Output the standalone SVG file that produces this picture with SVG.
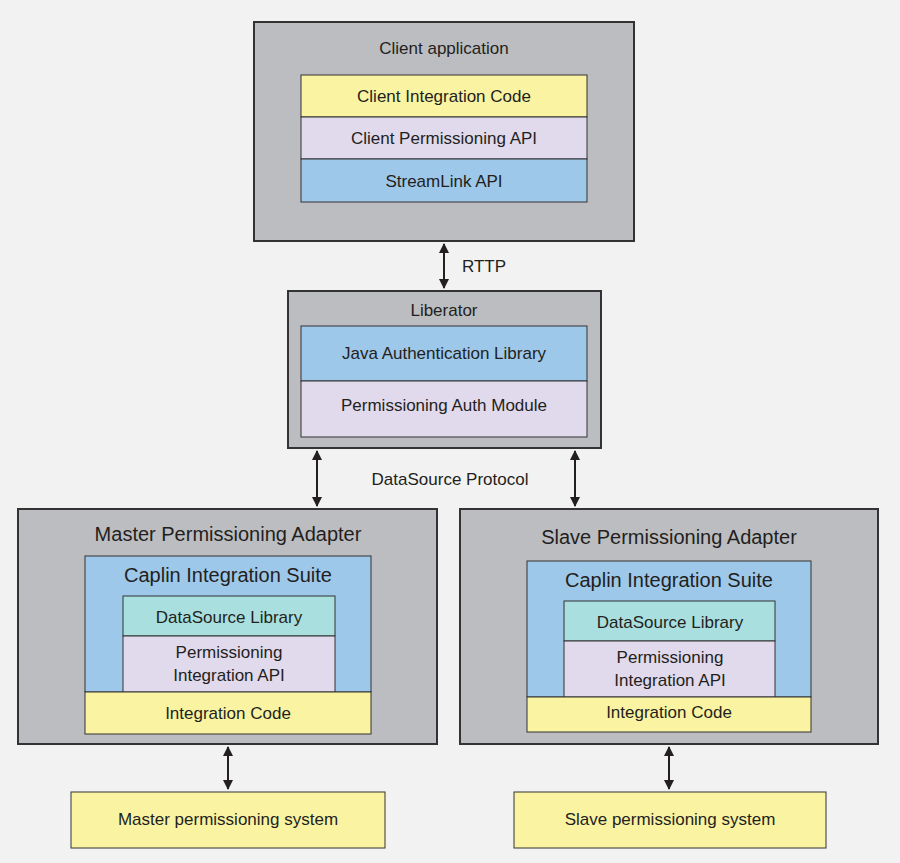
<svg xmlns="http://www.w3.org/2000/svg" width="900" height="863" viewBox="0 0 900 863">
<style>
text{font-family:"Liberation Sans",Arial,sans-serif;fill:#231f20;text-anchor:middle}
.g{fill:#bcbdc0;stroke:#333;stroke-width:2}
.y{fill:#faf4a2;stroke:#333;stroke-width:1}
.l{fill:#e1d9ec;stroke:#333;stroke-width:1}
.b{fill:#9dc8ea;stroke:#333;stroke-width:1}
.c{fill:#a9dfdf;stroke:#333;stroke-width:1}
.t{font-size:17px}
.h{font-size:20px}
.a{stroke:#231f20;stroke-width:2;fill:none;marker-start:url(#m);marker-end:url(#m)}
</style>
<defs><marker id="m" viewBox="0 0 10 10" refX="9" refY="5" markerWidth="5" markerHeight="5" orient="auto-start-reverse"><path d="M0,0L10,5L0,10z" fill="#231f20"/></marker></defs>
<rect width="900" height="863" fill="#f2f2f2"/>
<g id="client"><rect class="g" x="254" y="22" width="380" height="219"/><text class="t" x="444" y="54">Client application</text>
<rect class="y" x="301" y="75" width="286" height="42"/><text class="t" x="444" y="102">Client Integration Code</text>
<rect class="l" x="301" y="117" width="286" height="42"/><text class="t" x="444" y="144">Client Permissioning API</text>
<rect class="b" x="301" y="159" width="286" height="43"/><text class="t" x="444" y="187">StreamLink API</text></g>
<g id="liberator"><rect class="g" x="288" y="291" width="313" height="157"/><text class="t" x="444" y="316">Liberator</text>
<rect class="b" x="301" y="326" width="286" height="55"/><text class="t" x="444" y="359">Java Authentication Library</text>
<rect class="l" x="301" y="381" width="286" height="56"/><text class="t" x="444" y="411">Permissioning Auth Module</text></g>
<g id="master"><rect class="g" x="18" y="509" width="419" height="235"/><text class="h" x="228" y="541">Master Permissioning Adapter</text>
<rect class="b" x="85" y="556" width="286" height="136"/><text class="h" x="228" y="582">Caplin Integration Suite</text>
<rect class="c" x="123" y="596" width="212" height="40"/><text class="t" x="229" y="623">DataSource Library</text>
<rect class="l" x="123" y="636" width="212" height="56"/><text class="t" x="229" y="658">Permissioning</text><text class="t" x="229" y="681">Integration API</text>
<rect class="y" x="85" y="692" width="286" height="42"/><text class="t" x="228" y="719">Integration Code</text></g>
<g id="slave"><rect class="g" x="460" y="509" width="418" height="235"/><text class="h" x="669" y="544">Slave Permissioning Adapter</text>
<rect class="b" x="527" y="561" width="284" height="136"/><text class="h" x="669" y="587">Caplin Integration Suite</text>
<rect class="c" x="564" y="601" width="211" height="40"/><text class="t" x="670" y="628">DataSource Library</text>
<rect class="l" x="564" y="641" width="211" height="56"/><text class="t" x="670" y="663">Permissioning</text><text class="t" x="670" y="686">Integration API</text>
<rect class="y" x="527" y="697" width="284" height="35"/><text class="t" x="669" y="718">Integration Code</text></g>
<g id="mps"><rect class="y" x="71" y="792" width="314" height="56"/><text class="t" x="228" y="825">Master permissioning system</text></g>
<g id="sps"><rect class="y" x="514" y="792" width="312" height="56"/><text class="t" x="670" y="825">Slave permissioning system</text></g>
<g id="connectors">
<line class="a" x1="444" y1="244" x2="444" y2="288"/><text class="t" x="484" y="272">RTTP</text>
<line class="a" x1="317" y1="451" x2="317" y2="506"/><line class="a" x1="575" y1="451" x2="575" y2="506"/>
<text class="t" x="450" y="485">DataSource Protocol</text>
<line class="a" x1="228" y1="747" x2="228" y2="789"/><line class="a" x1="669" y1="747" x2="669" y2="789"/>
</g>
</svg>
